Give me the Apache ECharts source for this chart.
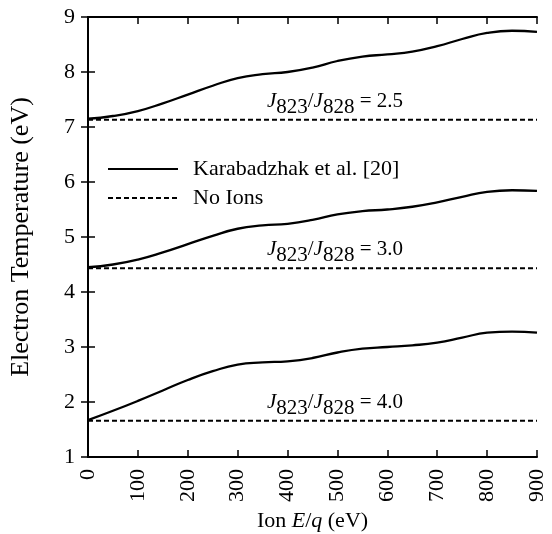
<!DOCTYPE html>
<html>
<head>
<meta charset="utf-8">
<script src="https://cdn.jsdelivr.net/npm/echarts@6/dist/echarts.min.js"></script>
<style>
  html, body { margin: 0; padding: 0; background: #fff; }
  #chart { width: 552px; height: 534px; }
</style>
</head>
<body>
<div id="chart"></div>
<script>
// ion energy (eV)
const energy = [0, 50, 100, 150, 200, 250, 300, 350, 400, 450, 500, 550, 600, 650, 700, 750, 800, 850, 900]

// electron temperature with ions (Karabadzhak et al.)
const teRatio25 = [7.15, 7.2, 7.29, 7.43, 7.59, 7.75, 7.89, 7.96, 8.0, 8.08, 8.2, 8.28, 8.32, 8.37, 8.47, 8.6, 8.71, 8.75, 8.73]
const teRatio30 = [4.45, 4.5, 4.59, 4.72, 4.87, 5.02, 5.15, 5.21, 5.24, 5.31, 5.41, 5.47, 5.5, 5.55, 5.63, 5.73, 5.82, 5.85, 5.84]
const teRatio40 = [1.67, 1.84, 2.02, 2.21, 2.4, 2.56, 2.68, 2.72, 2.74, 2.8, 2.9, 2.97, 3.0, 3.03, 3.08, 3.17, 3.26, 3.28, 3.26]

// electron temperature without ions
const noIonLevels = [7.13, 4.43, 1.66]
const ratioLabels = ['2.5', '3.0', '4.0']

const FONT = 'Liberation Serif'
const FS = 22
const chart = echarts.init(document.getElementById('chart'))

const pair = ys => energy.map((x, i) => [x, ys[i]])

const solidSeries = [teRatio25, teRatio30, teRatio40].map(ys => ({
  name: 'Karabadzhak et al. [20]',
  type: 'line',
  smooth: true,
  symbol: 'none',
  itemStyle: { color: '#000' },
  lineStyle: { color: '#000', width: 2.3 },
  data: pair(ys)
}))

const dashedSeries = noIonLevels.map((lvl, i) => ({
  name: 'No Ions',
  type: 'line',
  symbol: 'none',
  itemStyle: { color: '#000' },
  lineStyle: { color: '#000', width: 2, type: [5, 3] },
  data: [[energy[0], lvl], [energy[energy.length - 1], lvl]],
  markPoint: {
    symbol: 'circle',
    symbolSize: 0,
    silent: true,
    data: [{ coord: [495, lvl] }],
    label: {
      show: true,
      position: 'inside',
      offset: [0, -19],
      formatter: '{j|J}{s|823}{t|/}{j|J}{s|828}{t| = ' + ratioLabels[i] + '}',
      rich: {
        j: { fontFamily: FONT, fontSize: 21, fontStyle: 'italic', color: '#000', lineHeight: 20, verticalAlign: 'top' },
        t: { fontFamily: FONT, fontSize: 21, color: '#000', lineHeight: 20, verticalAlign: 'top' },
        s: { fontFamily: FONT, fontSize: 21, color: '#000', lineHeight: 20, verticalAlign: 'top', padding: [6, 0, 0, 0] }
      }
    }
  }
}))

const option = {
  animation: false,
  grid: { left: 88, right: 15, top: 17, bottom: 77, outerBoundsMode: 'none' },
  legend: {
    orient: 'vertical',
    left: 102,
    top: 153,
    itemWidth: 70,
    itemHeight: 18,
    itemGap: 7,
    itemStyle: { opacity: 0 },
    textStyle: { fontFamily: FONT, fontSize: FS, color: '#000', padding: [0, 0, 0, 10] },
    data: ['Karabadzhak et al. [20]', 'No Ions']
  },
  xAxis: [
    {
      type: 'value',
      min: 0,
      max: 900,
      interval: 100,
      name: 'Ion {i|E}/{i|q} (eV)',
      nameLocation: 'middle',
      nameGap: 47,
      nameTextStyle: {
        fontFamily: FONT, fontSize: FS, color: '#000',
        rich: { i: { fontFamily: FONT, fontSize: FS, fontStyle: 'italic', color: '#000' } }
      },
      axisLine: { lineStyle: { color: '#000', width: 2 } },
      axisTick: { inside: true, length: 7, lineStyle: { color: '#000', width: 1.5 } },
      axisLabel: { rotate: 90, margin: 12, fontFamily: FONT, fontSize: FS, color: '#000' },
      splitLine: { show: false }
    },
    {
      type: 'value',
      position: 'top',
      min: 0,
      max: 900,
      interval: 100,
      axisLine: { lineStyle: { color: '#000', width: 2 } },
      axisTick: { inside: true, length: 7, lineStyle: { color: '#000', width: 1.5 } },
      axisLabel: { show: false },
      splitLine: { show: false }
    }
  ],
  yAxis: [
    {
      type: 'value',
      min: 1,
      max: 9,
      interval: 1,
      name: 'Electron Temperature (eV)',
      nameLocation: 'middle',
      nameGap: 54,
      nameTextStyle: { fontFamily: FONT, fontSize: 26, color: '#000' },
      axisLine: { show: true, lineStyle: { color: '#000', width: 2 } },
      axisTick: { show: true, inside: true, length: 7, lineStyle: { color: '#000', width: 1.5 } },
      axisLabel: { margin: 13, fontFamily: FONT, fontSize: FS, color: '#000' },
      splitLine: { show: false }
    },
    {
      type: 'value',
      position: 'right',
      min: 1,
      max: 9,
      interval: 1,
      axisLine: { show: true, lineStyle: { color: '#000', width: 2 } },
      axisTick: { show: true, inside: true, length: 7, lineStyle: { color: '#000', width: 1.5 } },
      axisLabel: { show: false },
      splitLine: { show: false }
    }
  ],
  series: [...solidSeries, ...dashedSeries]
}

chart.setOption(option)
</script>
</body>
</html>
